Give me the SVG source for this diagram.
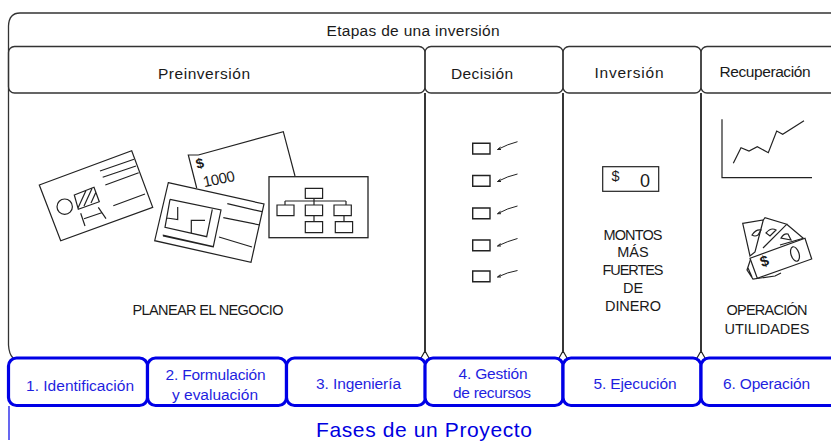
<svg xmlns="http://www.w3.org/2000/svg" width="831" height="441" viewBox="0 0 831 441">
<style>
text{font-family:"Liberation Sans",Arial,sans-serif;font-size:15.5px;fill:#1a1a1a;text-anchor:middle}
.l{fill:none;stroke:#222;stroke-width:1.2}
.v{fill:none;stroke:#222;stroke-width:1.8}
.h{fill:none;stroke:#333;stroke-width:1.3}
.b{fill:#fff;stroke:#0000e6;stroke-width:3.2}
.bt{fill:#1f1fe0}
.s{font-size:14.5px}
.t{font-size:21px;fill:#0000e0}
</style>
<rect width="831" height="441" fill="#fff"/>
<g id="connectors">
<path class="h" d="M831 13H20Q9 13 8.500 26V345Q9 354 13 358"/>
<path class="v" d="M425 93V351M563 93V351M701 93V351"/>
<path class="l" d="M421 358L425 351L429 358M559 358L563 351L567 358M697 358L701 351L705 358"/>
<path d="M9 406V440" fill="none" stroke="#0000e6" stroke-width="1.2"/>
</g>
<g id="etapas"><text x="413" y="36" textLength="173" lengthAdjust="spacing">Etapas de una inversión</text></g>
<g id="preinversion">
<rect class="h" x="8.500" y="46.500" width="416.500" height="46.500" rx="6"/>
<text x="204" y="79" textLength="92" lengthAdjust="spacing">Preinversión</text>
</g>
<g id="decision">
<rect class="h" x="425" y="46.500" width="138" height="46.500" rx="6"/>
<text x="482" y="79" textLength="62" lengthAdjust="spacing">Decisión</text>
</g>
<g id="inversion">
<rect class="h" x="563" y="46.500" width="138" height="46.500" rx="6"/>
<text x="629" y="78" textLength="69" lengthAdjust="spacing">Inversión</text>
</g>
<g id="recuperacion">
<rect class="h" x="701" y="46.500" width="145" height="46.500" rx="6"/>
<text x="765" y="77" textLength="91" lengthAdjust="spacing">Recuperación</text>
</g>
<g id="icono-tarjeta">
<path class="l" d="M39.300 185L131.700 150.700L152.700 207.300L60.700 240.700Z"/>
<path class="l" d="M100 171L134 159.300M102.700 177.300L136 166M105.300 185L138.700 172.700M113.300 205.700L145 194"/>
<circle class="l" cx="64.700" cy="206.700" r="7.700"/>
<path class="l" d="M74.300 195L94 187.300L99.300 201.700L78.300 209.300ZM78 208L86 190.500M84 206L92 188.500M91 203L96 192"/>
<path class="l" d="M80.700 213.300L85 226M98.300 207.300L106 218.700M84 218.700L101.700 212.700"/>
</g>
<g id="icono-cheque">
<path class="l" d="M198.300 155L283.300 131.700L295 176M196.700 188L188.300 155L198.300 155"/>
<text x="201" y="168" style="font-size:14px;font-weight:bold" transform="rotate(-15 201 168)">$</text>
<text x="220" y="184" style="font-size:15px" textLength="32" transform="rotate(-12 220 184)">1000</text>
</g>
<g id="icono-plano">
<path fill="#fff" stroke="#222" stroke-width="1.2" d="M168.300 182.700L264 204L251 262.300L154.700 240.700Z"/>
<path class="l" d="M170 199.300L221 210L213.300 246.700L162.700 235M170 199.300L165 227.300L206.700 236.700L212.300 209.300M177.700 207V219.500L167 218M191.300 234V220.300H205M227.300 203.700L262 211.700M223.300 217.700L260 225M219 237L252 247M163 236L213.300 247"/>
</g>
<g id="icono-organigrama">
<rect fill="#fff" stroke="#222" stroke-width="1.3" x="269" y="176.700" width="99" height="61"/>
<path class="l" d="M314 198.300V205M285 201H346M285 201V205M346 201V205M314 215.700V221.700M344 215.700V221.700"/>
<path class="l" d="M305.300 188.300h17.300v10h-17.300zM277 205h17v10.700h-17zM305.300 205h17.300v10.700h-17.300zM334 205h17.300v10.700h-17.300zM305.300 221.700h17.300v11h-17.300zM335.300 221.700h17.300v11h-17.300z"/>
</g>
<g id="texto-planear"><text x="208" y="315" class="s" textLength="151" lengthAdjust="spacing">PLANEAR EL NEGOCIO</text></g>
<g id="lista-decision">
<path class="v" style="stroke-width:1.4" d="M472.700 143.300h17.300v10.700h-17.300zM472.700 175.500h17.300v10.700h-17.300zM472.700 208h17.300v10.700h-17.300zM472.700 240h17.300v10.700h-17.300zM472.700 271h17.300v10.700h-17.300z"/>
<path class="l" style="stroke-width:1" d="M497.500 149.500Q508 144 517.500 141.700M497.500 149.500l3-2.500M497.500 149.500l3.500 0M497.500 181.500Q508 176 517.500 174M497.500 181.500l3-2.500M497.500 181.500l3.500 0M497.500 213.700Q508 208 517.500 206M497.500 213.700l3-2.500M497.500 213.700l3.500 0M497.500 246Q508 241 517.500 238.500M497.500 246l3-2.500M497.500 246l3.500 0M497.500 277Q508 272 517.500 270.500M497.500 277l3-2.500M497.500 277l3.500 0"/>
</g>
<g id="icono-billete">
<rect class="l" x="602.700" y="166.700" width="56" height="24.600"/>
<text x="615.500" y="181" class="s">$</text>
<text x="645" y="187" style="font-size:18px">0</text>
</g>
<g id="texto-montos">
<text x="633" y="240" class="s" textLength="59" lengthAdjust="spacing">MONTOS</text>
<text x="633" y="257" class="s">MÁS</text>
<text x="633" y="275" class="s" textLength="61" lengthAdjust="spacing">FUERTES</text>
<text x="633" y="293" class="s">DE</text>
<text x="633" y="311" class="s" textLength="56" lengthAdjust="spacing">DINERO</text>
</g>
<g id="icono-grafica">
<path class="l" d="M722 119.300V177.700H812"/>
<path class="l" d="M733.300 163.300L741 147.700L749 151L757.300 146.700L768.300 152.700L776.700 131L782.700 134.300L804 120.700"/>
</g>
<g id="icono-billetes">
<path class="l" d="M751 258L747 270L753 279L775 276L781 273M748 268L752 277"/>
<path fill="#fff" stroke="#222" stroke-width="1.2" d="M742.700 223.300L763.300 220L755 252L750 256Z"/>
<path class="l" d="M763.300 220L765 217.700L786.700 224.300L763 248M786.700 224.300L803.300 238.300L780 245"/>
<path class="l" d="M752 235q4-6 9-5l-3 5q-3 2-6 0zM766 233q5-6 10-3l-6 6zM781 238q3-5 7-4l3 6z"/>
<path fill="#fff" stroke="#222" stroke-width="1.2" d="M750 258.300L805 238.300L811.700 259L757.300 278.300Z"/>
<text x="766" y="266" style="font-size:15px;font-weight:bold" transform="rotate(-18 766 266)">$</text>
<ellipse class="l" cx="795" cy="254" rx="4" ry="7.500" transform="rotate(-18 795 254)"/>
</g>
<g id="texto-utilidades">
<text x="767" y="315" class="s" textLength="81" lengthAdjust="spacing">OPERACIÓN</text>
<text x="767" y="334" class="s" textLength="85" lengthAdjust="spacing">UTILIDADES</text>
</g>
<g id="fase-1"><rect class="b" x="8.500" y="358" width="139" height="47.500" rx="8"/><text class="bt" x="80" y="391" textLength="108" lengthAdjust="spacing">1. Identificación</text></g>
<g id="fase-2"><rect class="b" x="147.500" y="358" width="139" height="47.500" rx="8"/><text class="bt" x="215.500" y="380" textLength="100" lengthAdjust="spacing">2. Formulación</text><text class="bt" x="215" y="400" textLength="86" lengthAdjust="spacing">y evaluación</text></g>
<g id="fase-3"><rect class="b" x="286.500" y="358" width="139" height="47.500" rx="8"/><text class="bt" x="358.500" y="389" textLength="85" lengthAdjust="spacing">3. Ingeniería</text></g>
<g id="fase-4"><rect class="b" x="425" y="358" width="138" height="47.500" rx="8"/><text class="bt" x="493" y="379" textLength="69" lengthAdjust="spacing">4. Gestión</text><text class="bt" x="492" y="398" textLength="78" lengthAdjust="spacing">de recursos</text></g>
<g id="fase-5"><rect class="b" x="563" y="358" width="138" height="47.500" rx="8"/><text class="bt" x="635" y="389" textLength="83" lengthAdjust="spacing">5. Ejecución</text></g>
<g id="fase-6"><rect class="b" x="701" y="358" width="145" height="47.500" rx="8"/><text class="bt" x="766.500" y="389" textLength="87" lengthAdjust="spacing">6. Operación</text></g>
<g id="titulo-fases"><text class="t" x="424" y="436.500" textLength="216" lengthAdjust="spacing">Fases de un Proyecto</text></g>
</svg>
